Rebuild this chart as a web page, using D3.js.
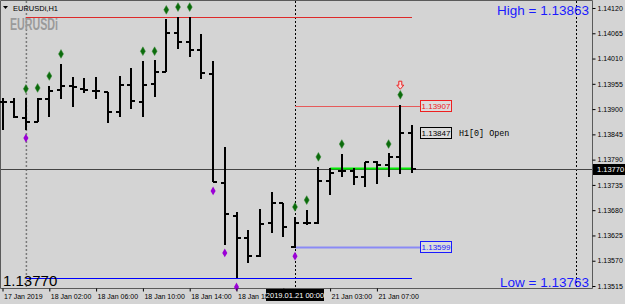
<!DOCTYPE html>
<html>
<head>
<meta charset="utf-8">
<script src="https://cdn.jsdelivr.net/npm/d3@7"></script>
<style>
  body { margin: 0; background: #d4d4d4; }
  svg { display: block; font-family: "Liberation Sans", Arial, sans-serif; }
</style>
</head>
<body>
<div id="chart"></div>
<script>
// bar times (H1)
const times = [
  "2019.01.17 22:00", "2019.01.17 23:00",
  "2019.01.18 00:00", "2019.01.18 01:00", "2019.01.18 02:00", "2019.01.18 03:00",
  "2019.01.18 04:00", "2019.01.18 05:00", "2019.01.18 06:00", "2019.01.18 07:00",
  "2019.01.18 08:00", "2019.01.18 09:00", "2019.01.18 10:00", "2019.01.18 11:00",
  "2019.01.18 12:00", "2019.01.18 13:00", "2019.01.18 14:00", "2019.01.18 15:00",
  "2019.01.18 16:00", "2019.01.18 17:00", "2019.01.18 18:00", "2019.01.18 19:00",
  "2019.01.18 20:00", "2019.01.18 21:00", "2019.01.18 22:00",
  "2019.01.21 00:00", "2019.01.21 01:00", "2019.01.21 02:00", "2019.01.21 03:00",
  "2019.01.21 04:00", "2019.01.21 05:00", "2019.01.21 06:00", "2019.01.21 07:00",
  "2019.01.21 08:00", "2019.01.21 09:00", "2019.01.21 10:00"
];

const opens = [1.13915, 1.13915, 1.13881, 1.13872, 1.13922, 1.13942, 1.13950, 1.13944, 1.13939, 1.13937,
  1.13894, 1.13952, 1.13915, 1.13955, 1.13981, 1.14066, 1.14046, 1.14029, 1.13976, 1.13739,
  1.13667, 1.13619, 1.13580, 1.13652, 1.13696, 1.13599, 1.13652, 1.13652, 1.13744, 1.13765,
  1.13765, 1.13752, 1.13785, 1.13778, 1.13796, 1.13848];
const highs = [1.13924, 1.13924, 1.13924, 1.13924, 1.13950, 1.13998, 1.13970, 1.13968, 1.13970, 1.13937,
  1.13972, 1.13989, 1.14005, 1.14007, 1.14096, 1.14100, 1.14100, 1.14063, 1.14005, 1.13818,
  1.13676, 1.13637, 1.13683, 1.13720, 1.13696, 1.13665, 1.13680, 1.13774, 1.13772, 1.13802,
  1.13772, 1.13785, 1.13787, 1.13804, 1.13909, 1.13865];
const lows = [1.13855, 1.13881, 1.13855, 1.13872, 1.13883, 1.13922, 1.13904, 1.13935, 1.13922, 1.13870,
  1.13883, 1.13900, 1.13883, 1.13926, 1.13981, 1.14031, 1.14013, 1.13965, 1.13741, 1.13604,
  1.13532, 1.13565, 1.13578, 1.13630, 1.13621, 1.13598, 1.13648, 1.13650, 1.13713, 1.13752,
  1.13735, 1.13730, 1.13737, 1.13752, 1.13759, 1.13761];
const closes = [1.13915, 1.13883, 1.13872, 1.13922, 1.13939, 1.13950, 1.13948, 1.13942, 1.13939, 1.13894,
  1.13952, 1.13918, 1.13952, 1.13981, 1.14066, 1.14046, 1.14029, 1.13979, 1.13741, 1.13672,
  1.13619, 1.13580, 1.13650, 1.13696, 1.13643, 1.13652, 1.13652, 1.13744, 1.13761, 1.13765,
  1.13752, 1.13785, 1.13778, 1.13796, 1.13848, 1.13770];

// signal dots
const upBars = [2, 3, 4, 5, 12, 13, 14, 15, 16, 25, 26, 27, 29, 33, 34];
const upPrices = [1.13944, 1.13946, 1.13972, 1.14020, 1.14026, 1.14026, 1.14116, 1.14122, 1.14122,
  1.13687, 1.13702, 1.13796, 1.13824, 1.13824, 1.13931];
const downBars = [2, 18, 19, 20, 25];
const downPrices = [1.13837, 1.13722, 1.13587, 1.13513, 1.13580];
const arrowBar = 34, arrowPrice = 1.13952;

// levels
const dayHigh = 1.14100, dayLow = 1.13532, dayStart = 2;
const levelUp = 1.13907, levelDown = 1.13599, levelStart = 25;
const greenLevel = 1.13772, greenStart = 28;
const lastOpen = 1.13847, currentPrice = 1.13770;

// axes (the 18 Jan 22:00 label sits under the crosshair box, so it stays blank)
const priceTicks = [1.14120, 1.14065, 1.14010, 1.13955, 1.13900, 1.13845, 1.13790, 1.13735, 1.13680, 1.13625, 1.13570, 1.13515];
const tickBars = [0, 4, 8, 12, 16, 20, 24, 28, 32];
const tickLabels = ["17 Jan 2019", "18 Jan 02:00", "18 Jan 06:00", "18 Jan 10:00", "18 Jan 14:00",
  "18 Jan 18:00", "", "21 Jan 03:00", "21 Jan 07:00"];

const W = 625, H = 304, plotRight = 592, plotBottom = 288;

const svg = d3.select("#chart").append("svg")
  .attr("width", W)
  .attr("height", H);

svg.append("rect").attr("width", W).attr("height", H).attr("fill", "#d4d4d4");

const x = d3.scalePoint().domain(times).range([2.5, 412]);
const y = d3.scaleLinear().domain([1.13515, 1.14120]).range([286, 8]);

// frame
svg.append("path")
  .attr("d", `M0.5,${plotBottom + 0.5}V0.5H${plotRight + 0.5}V${plotBottom + 0.5}H0.5`)
  .attr("fill", "none")
  .attr("stroke", "#5a5a5a");

// vertical separators
svg.append("line")
  .attr("x1", x(times[dayStart]) + 0.5).attr("x2", x(times[dayStart]) + 0.5)
  .attr("y1", 1).attr("y2", plotBottom)
  .attr("stroke", "#7a7a7a").attr("stroke-width", 1.5).attr("stroke-dasharray", "2,2");

svg.append("line")
  .attr("x1", Math.round(x(times[levelStart])) + 0.5).attr("x2", Math.round(x(times[levelStart])) + 0.5)
  .attr("y1", 1).attr("y2", plotBottom)
  .attr("stroke", "#000").attr("stroke-dasharray", "2,2");

svg.append("line")
  .attr("x1", 576.5).attr("x2", 576.5)
  .attr("y1", 1).attr("y2", plotBottom)
  .attr("stroke", "#000").attr("stroke-dasharray", "2,2");

// horizontal levels
function hline(price, from, to, color, width) {
  const yy = Math.round(y(price)) + 0.5;
  svg.append("line")
    .attr("x1", from).attr("x2", to)
    .attr("y1", yy).attr("y2", yy)
    .attr("stroke", color).attr("stroke-width", width);
}

hline(currentPrice, 1, plotRight, "#444", 1);
hline(dayHigh, x(times[dayStart]), x(times[times.length - 1]), "#dd2a2a", 1);
hline(dayLow, x(times[dayStart]), x(times[times.length - 1]), "#0000ff", 1);
hline(levelUp, x(times[levelStart]), 420, "#e65a5a", 1);
hline(levelDown, x(times[levelStart]), 420, "#8a8af5", 2);
hline(greenLevel, x(times[greenStart]), x(times[times.length - 1]), "#00ee00", 2);

// OHLC bars
const bars = svg.append("g").attr("fill", "#000");
times.forEach((t, i) => {
  const cx = Math.round(x(t));
  const hy = Math.round(y(highs[i])), ly = Math.round(y(lows[i]));
  bars.append("rect").attr("x", cx - 1).attr("y", hy).attr("width", 2).attr("height", Math.max(ly - hy, 1));
  bars.append("rect").attr("x", cx - 4).attr("y", Math.round(y(opens[i])) - 1).attr("width", 4).attr("height", 2);
  bars.append("rect").attr("x", cx).attr("y", Math.round(y(closes[i])) - 1).attr("width", 4).attr("height", 2);
});

// signal dots
const diamond = d3.symbol().type(d3.symbolDiamond).size(22);
svg.append("g").selectAll("path")
  .data(upBars)
  .join("path")
  .attr("d", diamond)
  .attr("transform", (d, i) => `translate(${x(times[d])},${y(upPrices[i])})`)
  .attr("fill", "#0b6b0b")
  .attr("stroke", "#3a8a3a")
  .attr("stroke-width", 0.5);

svg.append("g").selectAll("path")
  .data(downBars)
  .join("path")
  .attr("d", diamond)
  .attr("transform", (d, i) => `translate(${x(times[d])},${y(downPrices[i])})`)
  .attr("fill", "#9b00d6");

// red arrow
svg.append("path")
  .attr("transform", `translate(${x(times[arrowBar])},${y(arrowPrice)})`)
  .attr("d", "M-1.5,-4H1.5V0H3.5L0,4L-3.5,0H-1.5Z")
  .attr("fill", "#f4dede")
  .attr("stroke", "#ee2222")
  .attr("stroke-width", 1);

// price label boxes
function priceBox(price, color, px) {
  const yy = Math.round(y(price));
  svg.append("rect")
    .attr("x", px + 0.5).attr("y", yy - 5.5)
    .attr("width", 31).attr("height", 11)
    .attr("fill", "#dcdcdc").attr("stroke", color);
  svg.append("text")
    .attr("x", px + 16).attr("y", yy + 3)
    .attr("text-anchor", "middle")
    .attr("font-size", 8)
    .attr("fill", color)
    .text(d3.format(".5f")(price));
}
priceBox(levelUp, "#ee2020", 420);
priceBox(levelDown, "#1a1aff", 420);
priceBox(lastOpen, "#000", 420);

svg.append("text")
  .attr("x", 459).attr("y", Math.round(y(lastOpen)) + 3)
  .attr("font-family", "'Liberation Mono', 'DejaVu Sans Mono', monospace")
  .attr("font-size", 8.4)
  .attr("fill", "#000")
  .text("H1[0] Open");

// titles
svg.append("path").attr("d", "M3,6H8L5.5,9Z").attr("fill", "#000");
svg.append("text")
  .attr("x", 13).attr("y", 11)
  .attr("font-size", 7.5)
  .attr("fill", "#000")
  .text("EURUSDi,H1");

svg.append("text")
  .attr("x", 10).attr("y", 30)
  .attr("font-size", 16)
  .attr("font-weight", "bold")
  .attr("fill", "#9a9a9a")
  .attr("textLength", 48)
  .attr("lengthAdjust", "spacingAndGlyphs")
  .text("EURUSDi");

svg.append("text")
  .attr("x", 589).attr("y", 15)
  .attr("text-anchor", "end")
  .attr("font-size", 13.5)
  .attr("fill", "#1a1aff")
  .text("High = 1.13863");

svg.append("text")
  .attr("x", 589).attr("y", 287)
  .attr("text-anchor", "end")
  .attr("font-size", 13.5)
  .attr("fill", "#1a1aff")
  .text("Low = 1.13763");

svg.append("text")
  .attr("x", 3).attr("y", 286)
  .attr("font-size", 15)
  .attr("fill", "#000")
  .text(d3.format(".5f")(currentPrice));

// price axis
const yAxis = svg.append("g")
  .attr("transform", `translate(${plotRight + 0.5},0)`)
  .call(d3.axisRight(y).tickValues(priceTicks).tickFormat(d3.format(".5f")).tickSize(3).tickPadding(2));
yAxis.select(".domain").remove();
yAxis.selectAll("text").attr("font-size", 7).attr("font-family", "'Liberation Sans', Arial, sans-serif").attr("fill", "#000");
yAxis.selectAll("line").attr("stroke", "#000");

// time axis
const xAxis = svg.append("g")
  .attr("transform", `translate(0,${plotBottom + 0.5})`)
  .call(d3.axisBottom(x)
    .tickValues(tickBars.map(i => times[i]))
    .tickFormat((d, i) => tickLabels[i])
    .tickSize(3));
xAxis.select(".domain").remove();
xAxis.selectAll("text")
  .attr("text-anchor", "start")
  .attr("x", 1).attr("y", 10).attr("dy", null)
  .attr("font-size", 7).attr("font-family", "'Liberation Sans', Arial, sans-serif").attr("fill", "#000");
xAxis.selectAll("line").attr("stroke", "#000");

// current price box on the price axis
const cy = Math.round(y(currentPrice));
svg.append("rect")
  .attr("x", plotRight + 1).attr("y", cy - 5)
  .attr("width", W - plotRight - 1).attr("height", 11)
  .attr("fill", "#000");
svg.append("text")
  .attr("x", plotRight + 5).attr("y", cy + 3)
  .attr("font-size", 7.5)
  .attr("fill", "#fff")
  .text(d3.format(".5f")(currentPrice));

// crosshair time box
const bx = Math.round(x(times[levelStart]));
svg.append("rect")
  .attr("x", bx - 29).attr("y", plotBottom + 1)
  .attr("width", 58).attr("height", 12)
  .attr("fill", "#000");
svg.append("text")
  .attr("x", bx).attr("y", plotBottom + 10)
  .attr("text-anchor", "middle")
  .attr("font-size", 7.5)
  .attr("fill", "#fff")
  .text("2019.01.21 00:00");
</script>
</body>
</html>
